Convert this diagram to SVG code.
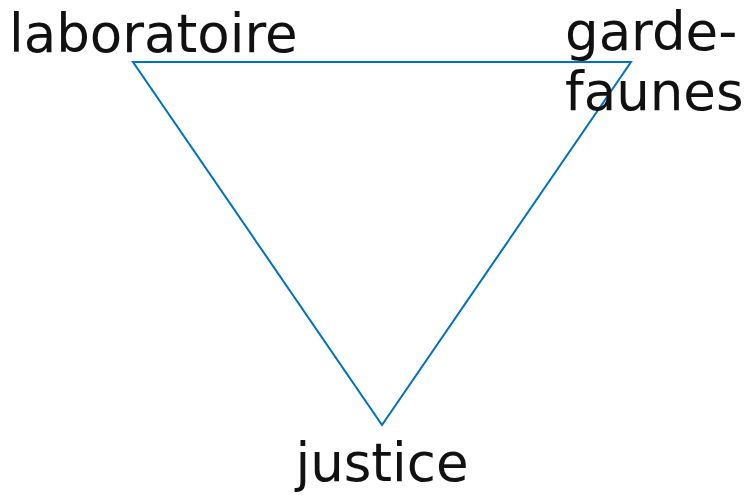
<svg xmlns="http://www.w3.org/2000/svg" width="746" height="498" viewBox="0 0 746 498">
<style>
.lbl{font-family:"DejaVu Sans",Verdana,sans-serif;font-size:53px;fill:#111}
.edge{fill:none;stroke:#0070C0;stroke-width:2}
</style>
<rect width="746" height="498" fill="#fff"/>
<g id="connectors">
<polygon class="edge" points="133,62 631,62 382,425"/>
</g>
<g id="laboratoire"><text class="lbl" x="9" y="52">laboratoire</text></g>
<g id="garde-faunes"><text class="lbl" x="565" y="50">garde-</text><text class="lbl" x="565" y="110">faunes</text></g>
<g id="justice"><text class="lbl" x="382" y="481" text-anchor="middle">justice</text></g>
</svg>
